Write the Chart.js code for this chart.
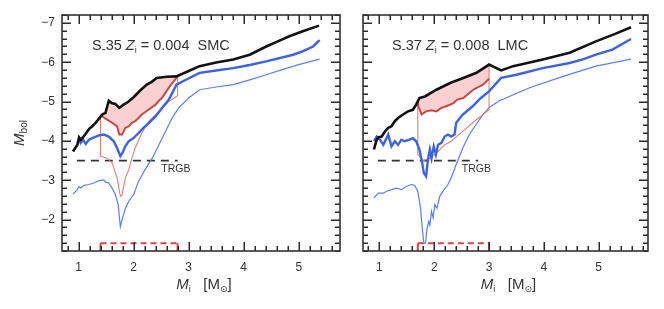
<!DOCTYPE html>
<html>
<head>
<meta charset="utf-8">
<script src="https://cdn.jsdelivr.net/npm/chart.js@4/dist/chart.umd.min.js"></script>
<style>
  html, body { margin: 0; padding: 0; background: #fff; }
  #wrap { position: relative; width: 664px; height: 309px; }
  canvas { position: absolute; top: 0; }
  #smc { left: 0; }
  #lmc { left: 345px; }
</style>
</head>
<body>
<div id="wrap">
  <canvas id="smc" width="345" height="309"></canvas>
  <canvas id="lmc" width="319" height="309"></canvas>
</div>
<script>
// ticks
const xTicks = [1, 2, 3, 4, 5];
const yTicks = [-7, -6, -5, -4, -3, -2];

// SMC panel (S_35, Z=0.004)
const smcBlackM   = [0.90, 0.98, 1.01, 1.04, 1.08, 1.13, 1.19, 1.25, 1.31, 1.37, 1.43, 1.49, 1.55, 1.60, 1.67, 1.74, 1.82, 1.91, 2.00, 2.12, 2.24, 2.33, 2.42, 2.60, 2.78, 2.99, 3.20, 3.50, 3.81, 4.11, 4.41, 4.62, 4.83, 5.10, 5.37];
const smcBlackBol = [-3.73, -3.90, -4.09, -4.03, -4.09, -4.18, -4.30, -4.37, -4.46, -4.56, -4.67, -4.71, -5.02, -4.96, -4.94, -4.84, -4.92, -5.00, -5.11, -5.28, -5.43, -5.50, -5.60, -5.63, -5.64, -5.77, -5.90, -5.99, -6.07, -6.19, -6.40, -6.53, -6.66, -6.80, -6.93];

const smcRedM   = [1.40, 1.45, 1.52, 1.61, 1.70, 1.74, 1.79, 1.85, 1.91, 1.97, 2.03, 2.09, 2.15, 2.27, 2.40, 2.46, 2.52, 2.66, 2.80];
const smcRedBol = [-4.65, -4.60, -4.54, -4.46, -4.37, -4.16, -4.16, -4.33, -4.37, -4.46, -4.50, -4.58, -4.67, -4.79, -4.92, -5.02, -5.10, -5.39, -5.64];

const smcRedThinM   = [1.40, 1.40, 1.52, 1.61, 1.70, 1.76, 1.79, 1.85, 1.91, 1.97, 2.03, 2.15, 2.28, 2.46, 2.64, 2.80, 2.80];
const smcRedThinBol = [-4.65, -3.61, -3.56, -3.44, -3.06, -2.59, -2.62, -3.06, -3.26, -3.56, -3.82, -4.20, -4.50, -4.75, -5.00, -5.15, -5.64];

const smcBlueM   = [0.98, 1.01, 1.04, 1.08, 1.13, 1.19, 1.25, 1.37, 1.46, 1.55, 1.64, 1.70, 1.76, 1.80, 1.85, 1.91, 2.00, 2.09, 2.18, 2.28, 2.40, 2.52, 2.64, 2.78, 2.96, 3.20, 3.50, 3.81, 4.11, 4.41, 4.90, 5.08, 5.26, 5.38];
const smcBlueBol = [-3.95, -4.03, -3.95, -4.03, -3.92, -4.03, -4.07, -4.14, -4.16, -4.11, -3.99, -3.82, -3.61, -3.70, -3.86, -3.99, -4.07, -4.20, -4.33, -4.46, -4.62, -4.84, -5.05, -5.43, -5.56, -5.73, -5.79, -5.85, -5.93, -6.02, -6.19, -6.28, -6.40, -6.56];

const smcBlueThinM   = [0.90, 0.98, 1.01, 1.04, 1.10, 1.19, 1.28, 1.37, 1.46, 1.49, 1.55, 1.61, 1.67, 1.72, 1.76, 1.80, 1.85, 1.91, 2.00, 2.09, 2.21, 2.34, 2.46, 2.58, 2.70, 2.82, 3.00, 3.20, 3.50, 3.81, 4.11, 4.41, 4.70, 5.00, 5.38];
const smcBlueThinBol = [-2.65, -2.76, -2.84, -2.80, -2.87, -2.89, -2.93, -2.99, -3.01, -2.95, -2.93, -2.80, -2.63, -2.38, -1.82, -2.04, -2.28, -2.46, -2.63, -2.97, -3.27, -3.56, -3.90, -4.24, -4.58, -4.84, -5.09, -5.30, -5.37, -5.43, -5.55, -5.68, -5.81, -5.94, -6.08];

// LMC panel (S_37, Z=0.008)
const lmcBlackM   = [0.90, 0.95, 0.98, 1.04, 1.10, 1.16, 1.22, 1.28, 1.34, 1.43, 1.52, 1.61, 1.67, 1.73, 1.83, 2.04, 2.29, 2.53, 2.77, 3.00, 3.22, 3.44, 3.98, 4.47, 4.95, 5.30, 5.59];
const lmcBlackBol = [-3.78, -4.03, -4.09, -4.11, -4.24, -4.33, -4.37, -4.50, -4.58, -4.67, -4.75, -4.79, -4.92, -5.09, -5.13, -5.30, -5.47, -5.60, -5.73, -5.94, -5.79, -5.90, -6.07, -6.24, -6.53, -6.72, -6.89];

const lmcRedM   = [1.70, 1.71, 1.77, 1.85, 1.95, 2.04, 2.13, 2.22, 2.35, 2.42, 2.53, 2.71, 2.89, 3.00];
const lmcRedBol = [-4.98, -4.88, -4.67, -4.75, -4.78, -4.75, -4.84, -4.88, -4.96, -5.05, -5.09, -5.30, -5.43, -5.58];

const lmcRedThinM   = [1.70, 1.70, 1.76, 1.80, 1.92, 2.01, 2.10, 2.19, 2.31, 2.37, 2.52, 2.70, 2.89, 3.00, 3.00];
const lmcRedThinBol = [-4.98, -3.65, -3.56, -3.50, -3.56, -3.65, -3.78, -3.90, -3.99, -4.07, -4.24, -4.46, -4.67, -4.79, -5.94];

const lmcBlueM   = [0.90, 0.95, 1.01, 1.07, 1.13, 1.16, 1.22, 1.28, 1.34, 1.40, 1.46, 1.55, 1.61, 1.67, 1.73, 1.78, 1.81, 1.85, 1.89, 1.92, 1.95, 1.99, 2.03, 2.07, 2.13, 2.19, 2.25, 2.31, 2.37, 2.40, 2.52, 2.70, 2.85, 3.00, 3.22, 3.50, 3.98, 4.47, 4.71, 4.95, 5.25, 5.59];
const lmcBlueBol = [-3.99, -4.11, -4.03, -3.90, -4.07, -4.16, -3.86, -3.99, -3.90, -4.03, -3.99, -4.03, -4.07, -3.99, -3.78, -3.44, -3.18, -3.10, -3.56, -3.78, -3.56, -3.86, -3.65, -3.90, -3.95, -4.11, -4.16, -4.11, -4.16, -4.46, -4.67, -4.88, -5.09, -5.26, -5.60, -5.68, -5.85, -5.98, -6.07, -6.19, -6.32, -6.59];

const lmcBlueThinM   = [0.90, 0.98, 1.07, 1.13, 1.22, 1.31, 1.40, 1.49, 1.58, 1.64, 1.70, 1.75, 1.78, 1.81, 1.84, 1.87, 1.90, 1.92, 1.95, 1.98, 2.01, 2.05, 2.10, 2.16, 2.25, 2.31, 2.40, 2.52, 2.64, 2.76, 2.89, 3.00, 3.19, 3.74, 4.35, 4.95, 5.59];
const lmcBlueThinBol = [-2.55, -2.67, -2.67, -2.72, -2.76, -2.80, -2.76, -2.84, -2.89, -2.87, -2.72, -2.29, -1.78, -1.40, -1.40, -1.78, -1.95, -1.86, -2.21, -2.04, -2.38, -2.29, -2.59, -2.72, -2.89, -3.06, -3.40, -3.82, -4.16, -4.41, -4.67, -4.85, -5.02, -5.35, -5.64, -5.90, -6.08];

// TRGB and the mass ranges marked at the bottom
const trgbBol = -3.5;
const smcTrgbM = [0.97, 2.80];
const lmcTrgbM = [0.97, 2.80];
const smcBoxM = [1.40, 2.80];
const lmcBoxM = [1.70, 3.00];
const boxBol = [-1.2, -1.4];

const FONT = '"Liberation Sans", Arial, Helvetica, sans-serif';

function pts(ms, bs) {
  return ms.map((m, i) => ({ x: m, y: bs[i] }));
}

function drawRuns(ctx, x, y, runs, align) {
  let w = 0;
  runs.forEach(r => { ctx.font = r.f; w += ctx.measureText(r.t).width; });
  let cx = align === 'center' ? x - w / 2 : x;
  runs.forEach(r => {
    ctx.font = r.f;
    ctx.fillText(r.t, cx, y + (r.dy || 0));
    cx += ctx.measureText(r.t).width;
  });
}

const framePlugin = {
  id: 'frame',
  afterDraw(chart, args, opts) {
    const { ctx, chartArea: a } = chart;
    const xs = chart.scales.x, ys = chart.scales.y;
    ctx.save();
    ctx.setLineDash([]);
    ctx.fillStyle = '#2a2a2a';
    // inward ticks on all four sides, minor every 0.2
    for (let k = 4; k <= 30; k++) {
      const v = k / 5;
      if (v < xs.min || v > xs.max) continue;
      const len = k % 5 === 0 ? 9 : 5;
      const px = Math.round(xs.getPixelForValue(v)) - 0.5;
      ctx.fillRect(px, a.bottom - len, 1.5, len);
      ctx.fillRect(px, a.top, 1.5, len);
    }
    for (let k = -36; k <= -6; k++) {
      const v = k / 5;
      if (v < ys.min || v > ys.max) continue;
      const len = k % 5 === 0 ? 9 : 5;
      const py = Math.round(ys.getPixelForValue(v)) - 0.5;
      ctx.fillRect(a.left, py, len, 1.5);
      ctx.fillRect(a.right - len, py, len, 1.5);
    }
    ctx.strokeStyle = '#333';
    ctx.lineWidth = 1.6;
    ctx.strokeRect(a.left, a.top, a.right - a.left, a.bottom - a.top);

    ctx.fillStyle = '#333';
    ctx.textBaseline = 'alphabetic';
    ctx.textAlign = 'left';
    // model label
    drawRuns(ctx, a.left + opts.labelDx, a.top + 35, [
      { t: 'S', f: '14.5px ' + FONT },
      { t: '-', f: '12px ' + FONT, dy: 3 },
      { t: opts.model + ' ', f: '14.5px ' + FONT },
      { t: 'Z', f: 'italic 14.5px ' + FONT },
      { t: 'i', f: '9px ' + FONT, dy: 3 },
      { t: ' = ' + opts.z + '  ' + opts.cloud, f: '14.5px ' + FONT }
    ]);
    // TRGB label
    ctx.font = '10.5px ' + FONT;
    ctx.textAlign = 'center';
    ctx.fillText('TRGB', xs.getPixelForValue(2.77), ys.getPixelForValue(-3.2));
    ctx.textAlign = 'left';
    // x title
    drawRuns(ctx, (a.left + a.right) / 2 + 3, 289, [
      { t: 'M', f: 'italic 15px ' + FONT },
      { t: 'i', f: '9px ' + FONT, dy: 3 },
      { t: '   [M', f: '15px ' + FONT },
      { t: '\u2299', f: '9px "DejaVu Sans"', dy: 3 },
      { t: ']', f: '15px ' + FONT }
    ], 'center');
    // y title
    if (opts.yTitle) {
      ctx.translate(24, (a.top + a.bottom) / 2);
      ctx.rotate(-Math.PI / 2);
      drawRuns(ctx, 0, 0, [
        { t: 'M', f: 'italic 15px ' + FONT },
        { t: 'bol', f: '10px ' + FONT, dy: 3 }
      ], 'center');
    }
    ctx.restore();
  }
};

function makeChart(id, d) {
  const datasets = [
    { data: pts(d.blackM, d.blackBol), borderColor: '#111', borderWidth: 2.6 },
    { data: pts(d.blueM, d.blueBol), borderColor: '#3d63de', borderWidth: 2.4 },
    { data: pts(d.redM, d.redBol), borderColor: '#c84a44', borderWidth: 2,
      fill: { target: 0 }, backgroundColor: 'rgba(240,120,120,0.35)' },
    { data: pts(d.redThinM, d.redThinBol), borderColor: '#e08078', borderWidth: 1.1 },
    { data: pts(d.blueThinM, d.blueThinBol), borderColor: '#5a80ee', borderWidth: 1.2 },
    { data: pts(d.trgbM, [trgbBol, trgbBol]), borderColor: '#333', borderWidth: 1.8, borderDash: [8, 6] },
    // solid ends of the mass-range bracket, dashed top
    { data: [{ x: d.boxM[0], y: boxBol[0] }, { x: d.boxM[0], y: boxBol[1] }], borderColor: '#dd4444', borderWidth: 2 },
    { data: [{ x: d.boxM[1], y: boxBol[0] }, { x: d.boxM[1], y: boxBol[1] }], borderColor: '#dd4444', borderWidth: 2 },
    { data: [{ x: d.boxM[0], y: boxBol[1] }, { x: d.boxM[1], y: boxBol[1] }], borderColor: '#dd4444', borderWidth: 2, borderDash: [6, 4] }
  ];
  datasets.forEach(ds => { ds.pointRadius = 0; ds.tension = 0; if (!ds.fill) ds.fill = false; });

  return new Chart(document.getElementById(id), {
    type: 'line',
    data: { datasets },
    plugins: [framePlugin],
    options: {
      responsive: false,
      animation: false,
      layout: { padding: { top: 15, right: d.padRight, left: 0, bottom: 0 } },
      plugins: {
        legend: { display: false },
        tooltip: { enabled: false },
        filler: { drawTime: 'beforeDatasetsDraw' },
        frame: d.frame
      },
      scales: {
        x: {
          type: 'linear', min: 0.7, max: d.xMax,
          grid: { display: false, drawTicks: false },
          border: { display: false },
          afterBuildTicks: s => { s.ticks = xTicks.map(v => ({ value: v })); },
          afterFit: s => { s.height = 58; },
          ticks: { padding: 9, color: '#333', font: { family: FONT, size: 12 }, maxRotation: 0, autoSkip: false }
        },
        y: {
          type: 'linear', min: -7.2, max: -1.2, reverse: true,
          grid: { display: false, drawTicks: false },
          border: { display: false },
          afterBuildTicks: s => { s.ticks = yTicks.map(v => ({ value: v })); },
          afterFit: s => { s.width = d.yWidth; },
          ticks: {
            display: d.yLabels, padding: 7, color: '#333', font: { family: FONT, size: 12 },
            callback: v => '\u2212' + Math.abs(v)
          }
        }
      }
    }
  });
}

makeChart('smc', {
  blackM: smcBlackM, blackBol: smcBlackBol,
  blueM: smcBlueM, blueBol: smcBlueBol,
  redM: smcRedM, redBol: smcRedBol,
  redThinM: smcRedThinM, redThinBol: smcRedThinBol,
  blueThinM: smcBlueThinM, blueThinBol: smcBlueThinBol,
  trgbM: smcTrgbM, boxM: smcBoxM,
  xMax: 5.75, padRight: 5, yWidth: 62, yLabels: true,
  frame: { model: '35', z: '0.004', cloud: 'SMC', labelDx: 30, yTitle: true }
});

makeChart('lmc', {
  blackM: lmcBlackM, blackBol: lmcBlackBol,
  blueM: lmcBlueM, blueBol: lmcBlueBol,
  redM: lmcRedM, redBol: lmcRedBol,
  redThinM: lmcRedThinM, redThinBol: lmcRedThinBol,
  blueThinM: lmcBlueThinM, blueThinBol: lmcBlueThinBol,
  trgbM: lmcTrgbM, boxM: lmcBoxM,
  xMax: 5.9, padRight: 16, yWidth: 18, yLabels: false,
  frame: { model: '37', z: '0.008', cloud: 'LMC', labelDx: 29, yTitle: false }
});
</script>
</body>
</html>
